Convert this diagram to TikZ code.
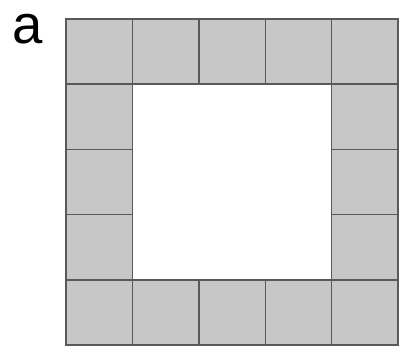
\documentclass[tikz,border=0pt]{standalone}
\usepackage{fontspec}
\setmainfont{Liberation Sans}
\usetikzlibrary{positioning}

\begin{document}
\begin{tikzpicture}[
    cell/.style={rectangle, draw=black!65, line width=0.8pt, fill=black!22, minimum width=1.328cm, minimum height=1.304cm, inner sep=0pt},
    panel/.style={font=\fontsize{31}{31}\selectfont, inner sep=0pt},
]
\useasboundingbox (0,0) rectangle (7.98,6.94);
\node [panel] (label) at (0.56,6.36) {a};

% top and bottom rows
\foreach \i in {0,...,4} {
    \node [cell] (top\i) at ({1.32+(\i+0.5)*1.328}, {6.56-0.5*1.304}) {};
    \node [cell] (bot\i) at ({1.32+(\i+0.5)*1.328}, {6.56-4.5*1.304}) {};
}
% left and right columns
\foreach \j in {1,2,3} {
    \node [cell] (left\j) at ({1.32+0.5*1.328}, {6.56-(\j+0.5)*1.304}) {};
    \node [cell] (right\j) at ({1.32+4.5*1.328}, {6.56-(\j+0.5)*1.304}) {};
}
\end{tikzpicture}
\end{document}
